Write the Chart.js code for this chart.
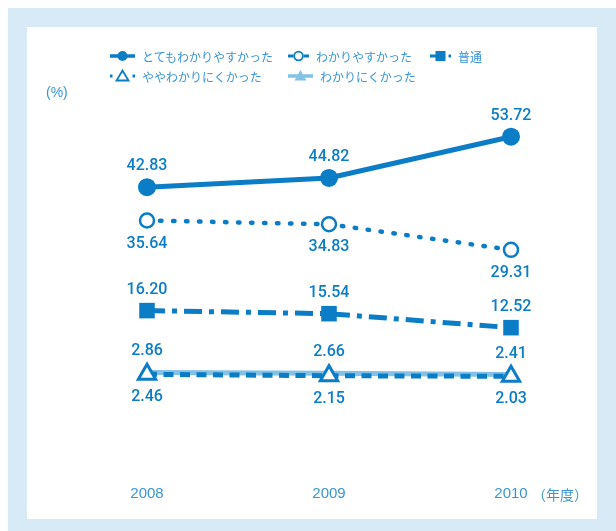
<!DOCTYPE html>
<html lang="ja">
<head>
<meta charset="utf-8">
<script src="https://cdn.jsdelivr.net/npm/chart.js@4/dist/chart.umd.min.js"></script>
<style>
  html, body { margin: 0; padding: 0; background: #fff; }
  #wrap { position: relative; width: 616px; height: 531px; overflow: hidden; }
  #frame { position: absolute; left: 8px; top: 8px; right: 0; bottom: 0; background: #d9eaf7; }
  #panel { position: absolute; left: 27px; top: 27px; width: 570px; height: 492px; background: #fff; }
  #chart { position: absolute; left: 0; top: 0; }
  .lg { position: absolute; height: 20px; display: flex; align-items: center;
        font: 12px "Noto Sans CJK JP", sans-serif; color: #3996d6; white-space: nowrap; }
  .lg svg { margin-right: 7px; }
  .note { position: absolute; color: #3996d6; font-family: "Noto Sans CJK JP", sans-serif; }
</style>
</head>
<body>
<div id="wrap">
  <div id="frame"></div>
  <div id="panel"></div>
  <canvas id="chart" width="616" height="531"></canvas>
  <div id="legend"></div>
  <div class="note" style="left:46px; top:84px; font-size:14px; font-family:'Liberation Sans',sans-serif;">(%)</div>
  <div class="note" style="left:532px; top:484px; font-size:14px;">（年度）</div>
</div>
<script>
// school years on the x axis
const years = ["2008", "2009", "2010"];

const seriesNames = [
  "とてもわかりやすかった",
  "わかりやすかった",
  "普通",
  "ややわかりにくかった",
  "わかりにくかった"
];

// percentages per answer, one value per year
const veryEasy = [42.83, 44.82, 53.72];
const easy = [35.64, 34.83, 29.31];
const average = [16.20, 15.54, 12.52];
const somewhatHard = [2.46, 2.15, 2.03];
const hard = [2.86, 2.66, 2.41];

const blue = "#0b7dc6";
const lightBlue = "#82c1e8";

// legend slots: [left, top, icon width]
const legendSlots = [
  [110, 46, 25], [288, 46, 21], [430, 46, 21],
  [110, 66, 25], [288, 66, 25]
];

const datasets = [
  {
    label: seriesNames[0], data: veryEasy, labelSide: "above",
    borderColor: blue, borderWidth: 5,
    pointStyle: "circle", pointRadius: 9, pointBackgroundColor: blue, pointBorderWidth: 0
  },
  {
    label: seriesNames[1], data: easy, labelSide: "below",
    borderColor: blue, borderWidth: 4.5, borderDash: [1.5, 11.5], borderCapStyle: "round",
    pointStyle: "circle", pointRadius: 7, pointBackgroundColor: "#fff",
    pointBorderColor: blue, pointBorderWidth: 2.5
  },
  {
    label: seriesNames[2], data: average, labelSide: "above",
    borderColor: blue, borderWidth: 5, borderDash: [18, 7, 5, 7],
    pointStyle: "rect", pointRadius: 11, pointBackgroundColor: blue, pointBorderWidth: 0
  },
  {
    label: seriesNames[3], data: somewhatHard, labelSide: "below",
    borderColor: blue, borderWidth: 5, borderDash: [10, 6.5],
    pointStyle: "triangle", pointRadius: 10, pointBackgroundColor: "#fff",
    pointBorderColor: blue, pointBorderWidth: 3
  },
  {
    label: seriesNames[4], data: hard, labelSide: "above",
    borderColor: lightBlue, borderWidth: 5,
    pointStyle: "triangle", pointRadius: 10,
    pointBackgroundColor: [lightBlue, lightBlue, blue], pointBorderWidth: 0
  }
];

// numbers printed next to each point
const valueLabels = {
  id: "valueLabels",
  afterDatasetsDraw(chart) {
    const ctx = chart.ctx;
    ctx.save();
    ctx.font = "500 16px Roboto, sans-serif";
    ctx.fillStyle = blue;
    ctx.textAlign = "center";
    ctx.textBaseline = "middle";
    chart.data.datasets.forEach((ds, i) => {
      chart.getDatasetMeta(i).data.forEach((pt, j) => {
        const dy = ds.labelSide === "above" ? -21 : 23;
        ctx.fillText(ds.data[j].toFixed(2), pt.x, pt.y + dy);
      });
    });
    ctx.restore();
  }
};

const chart = new Chart(document.getElementById("chart"), {
  type: "line",
  data: { labels: years, datasets: datasets },
  options: {
    responsive: false,
    animation: false,
    layout: { padding: { left: 147, right: 105, top: 100, bottom: 20 } },
    datasets: { line: { clip: false, tension: 0 } },
    plugins: { legend: { display: false }, tooltip: { enabled: false } },
    scales: {
      x: {
        offset: false,
        grid: { display: false, drawTicks: false },
        border: { display: false },
        ticks: { padding: 8, color: "#3996d6", font: { family: "'Liberation Sans', sans-serif", size: 15 } }
      },
      y: { display: false, min: -19.7, max: 61.64 }
    }
  },
  plugins: [valueLabels]
});

// small line + marker sample for the legend
function legendIcon(ds, w) {
  const c = ds.borderColor;
  const mid = w / 2;
  const fill = Array.isArray(ds.pointBackgroundColor) ? ds.pointBackgroundColor[0] : ds.pointBackgroundColor;
  const sw = ds.pointBorderWidth ? 1.8 : 0;
  let line;
  if (!ds.borderDash) {
    line = `<line x1="0" y1="10" x2="${w}" y2="10" stroke="${c}" stroke-width="3.5"/>`;
  } else if (ds.borderDash.length === 4) {
    line = `<line x1="0" y1="10" x2="${mid - 4}" y2="10" stroke="${c}" stroke-width="3"/>` +
           `<line x1="${w - 2.5}" y1="10" x2="${w}" y2="10" stroke="${c}" stroke-width="3"/>`;
  } else if (ds.pointStyle === "triangle") {
    line = `<line x1="0" y1="10" x2="2.5" y2="10" stroke="${c}" stroke-width="3"/>` +
           `<line x1="${w - 2.5}" y1="10" x2="${w}" y2="10" stroke="${c}" stroke-width="3"/>`;
  } else {
    line = `<line x1="0" y1="10" x2="${mid - 5}" y2="10" stroke="${c}" stroke-width="3"/>` +
           `<line x1="${mid + 5}" y1="10" x2="${w}" y2="10" stroke="${c}" stroke-width="3"/>`;
  }
  let mark;
  if (ds.pointStyle === "circle") {
    mark = `<circle cx="${mid}" cy="10" r="${sw ? 4.3 : 5}" fill="${fill}" stroke="${c}" stroke-width="${sw}"/>`;
  } else if (ds.pointStyle === "rect") {
    mark = `<rect x="${mid - 5}" y="5" width="10" height="10" fill="${fill}"/>`;
  } else {
    mark = `<polygon points="${mid},${sw ? 4.5 : 4} ${mid + 6},14.5 ${mid - 6},14.5" fill="${fill}" stroke="${ds.pointBorderColor || c}" stroke-width="${sw}"/>`;
  }
  return `<svg width="${w}" height="20">${line}${mark}</svg>`;
}

const legendBox = document.getElementById("legend");
chart.data.datasets.forEach((ds, i) => {
  const [left, top, w] = legendSlots[i];
  const item = document.createElement("div");
  item.className = "lg";
  item.style.left = left + "px";
  item.style.top = top + "px";
  item.innerHTML = legendIcon(ds, w) + `<span>${ds.label}</span>`;
  legendBox.appendChild(item);
});
</script>
</body>
</html>
